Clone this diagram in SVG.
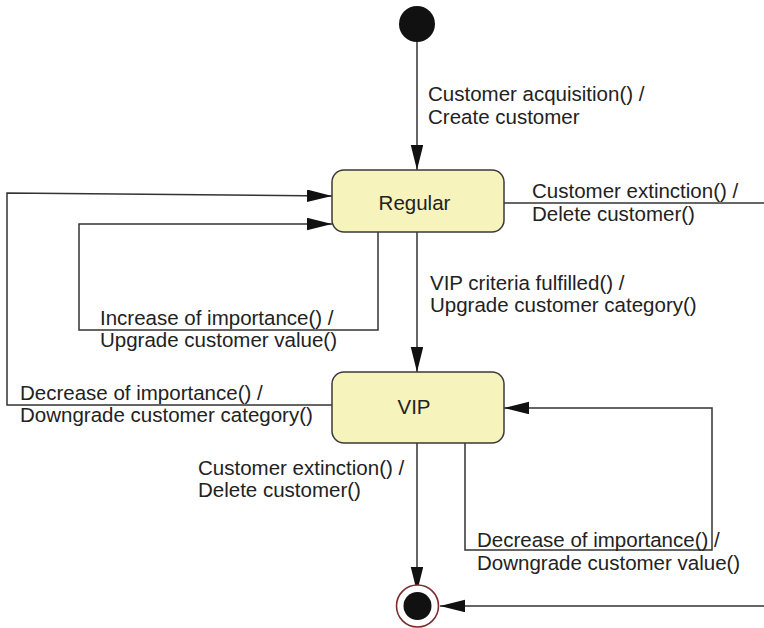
<svg xmlns="http://www.w3.org/2000/svg" width="764" height="628" viewBox="0 0 764 628">
  <defs>
    <marker id="arrow" markerUnits="userSpaceOnUse" markerWidth="26" markerHeight="13" refX="25" refY="6.25" orient="auto">
      <path d="M0,0 L25,6.25 L0,12.5 Z" fill="#111"/>
    </marker>
    <style>
      .state { fill: #f6f3bd; stroke: #3a3a3a; stroke-width: 1.5; }
      .edge { fill: none; stroke: #333; stroke-width: 1.5; }
      .arrowed { marker-end: url(#arrow); }
      text { font-family: "Liberation Sans", Arial, sans-serif; font-size: 20.5px; fill: #222; }
      .name { text-anchor: middle; }
    </style>
  </defs>
  <rect width="764" height="628" fill="#ffffff"/>

  <!-- transitions -->
  <g id="connectors">
    <line class="edge arrowed" x1="417" y1="41" x2="417" y2="170"/>
    <line class="edge" x1="504" y1="203" x2="764" y2="203"/>
    <line class="edge arrowed" x1="417" y1="232" x2="417" y2="372"/>
    <polyline class="edge arrowed" points="378,232 378,330 79,330 79,224 332,224"/>
    <polyline class="edge arrowed" points="332,405 7,405 7,193 332,196"/>
    <polyline class="edge arrowed" points="465,443 465,550 712,550 712,408 504,408"/>
    <line class="edge arrowed" x1="417" y1="443" x2="417" y2="592"/>
    <line class="edge arrowed" x1="764" y1="606" x2="440" y2="606"/>
  </g>

  <!-- transition labels -->
  <g id="labels">
    <text x="428" y="101">Customer acquisition() /</text>
    <text x="428" y="124">Create customer</text>
    <text x="532" y="198">Customer extinction() /</text>
    <text x="532" y="221">Delete customer()</text>
    <text x="430" y="290">VIP criteria fulfilled() /</text>
    <text x="430" y="312">Upgrade customer category()</text>
    <text x="100" y="325">Increase of importance() /</text>
    <text x="100" y="347">Upgrade customer value()</text>
    <text x="20" y="400">Decrease of importance() /</text>
    <text x="20" y="422">Downgrade customer category()</text>
    <text x="198" y="475">Customer extinction() /</text>
    <text x="198" y="497">Delete customer()</text>
    <text x="477" y="547">Decrease of importance() /</text>
    <text x="477" y="570">Downgrade customer value()</text>
  </g>

  <g id="initial">
    <circle cx="417" cy="24" r="18" fill="#111"/>
  </g>

  <g id="regular">
    <rect class="state" x="332" y="170" width="172" height="62" rx="12"/>
    <text class="name" x="414.5" y="210">Regular</text>
  </g>

  <g id="vip">
    <rect class="state" x="332" y="372" width="172" height="71" rx="12"/>
    <text class="name" x="414" y="414">VIP</text>
  </g>

  <g id="final">
    <circle cx="417.5" cy="606" r="21" fill="#fff" stroke="#7b2d2d" stroke-width="1.6"/>
    <circle cx="417.5" cy="606" r="14" fill="#111"/>
  </g>
</svg>
